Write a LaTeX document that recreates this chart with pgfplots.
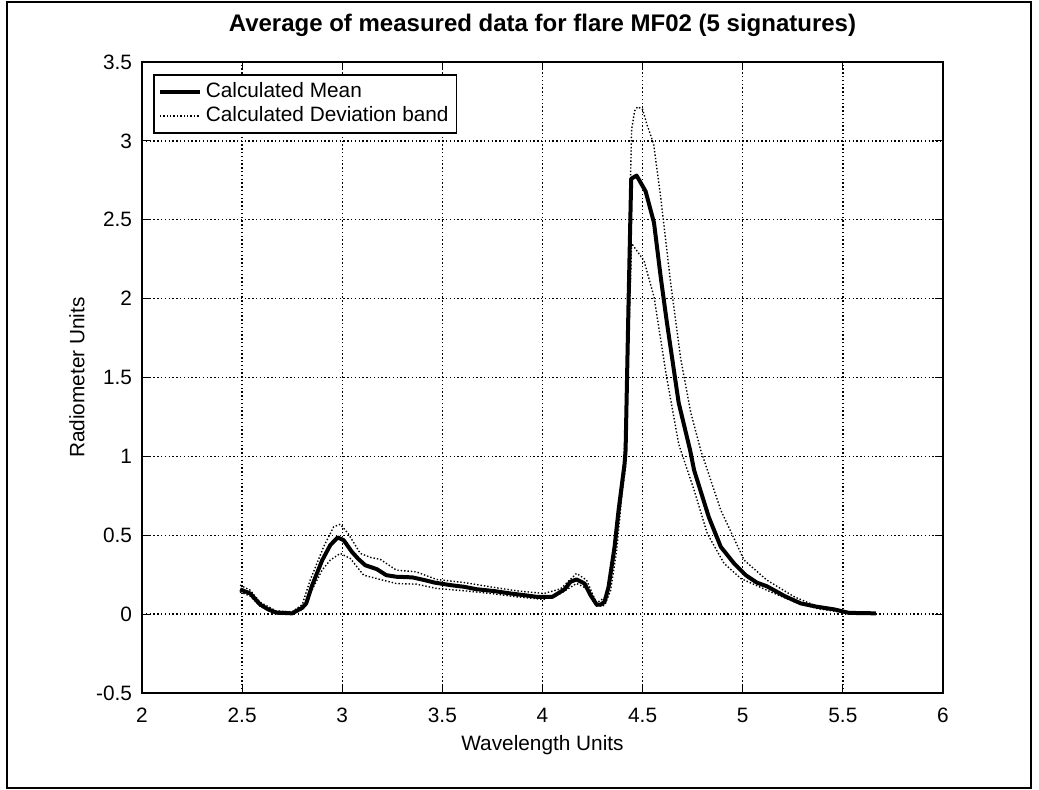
\documentclass[border=0pt]{standalone}
\usepackage{fontspec}
\setmainfont{Liberation Sans}
\usepackage{pgfplots}
\pgfplotsset{compat=1.18}

% mean curve and the two edges of the deviation band
\pgfplotstableread{
x y
2.49 0.157
2.54 0.131
2.59 0.061
2.63 0.030
2.67 0.010
2.75 0.005
2.80 0.040
2.82 0.068
2.85 0.184
2.90 0.342
2.94 0.437
2.977 0.486
3.007 0.469
3.048 0.395
3.08 0.350
3.115 0.310
3.173 0.285
3.22 0.247
3.27 0.237
3.35 0.233
3.41 0.216
3.46 0.200
3.54 0.184
3.61 0.173
3.67 0.158
3.76 0.146
3.84 0.131
3.91 0.120
3.97 0.110
4.05 0.110
4.11 0.157
4.14 0.205
4.17 0.220
4.21 0.194
4.24 0.120
4.27 0.061
4.29 0.060
4.31 0.078
4.33 0.173
4.36 0.427
4.38 0.660
4.41 0.955
4.415 1.04
4.43 1.99
4.443 2.76
4.47 2.78
4.515 2.68
4.557 2.48
4.59 2.14
4.62 1.86
4.68 1.34
4.737 1.04
4.757 0.913
4.83 0.617
4.89 0.427
4.957 0.321
5.015 0.247
5.07 0.200
5.12 0.177
5.21 0.114
5.29 0.068
5.37 0.047
5.457 0.030
5.53 0.008
5.665 0.005
}\meandata

\pgfplotstableread{
x y
2.49 0.184
2.54 0.152
2.59 0.075
2.67 0.020
2.75 0.015
2.80 0.060
2.84 0.216
2.907 0.427
2.957 0.553
2.99 0.570
3.03 0.510
3.09 0.385
3.14 0.360
3.19 0.347
3.27 0.279
3.37 0.268
3.47 0.220
3.61 0.200
3.74 0.173
3.87 0.148
4.007 0.131
4.09 0.160
4.17 0.258
4.22 0.216
4.27 0.070
4.315 0.110
4.35 0.300
4.38 0.596
4.415 0.934
4.425 1.50
4.435 2.50
4.445 3.07
4.46 3.19
4.475 3.216
4.50 3.20
4.52 3.11
4.555 2.98
4.59 2.645
4.64 2.10
4.69 1.62
4.74 1.28
4.79 1.04
4.89 0.660
5.007 0.342
5.12 0.216
5.257 0.110
5.37 0.050
5.457 0.030
5.53 0.008
5.665 0.005
}\upperdata

\pgfplotstableread{
x y
2.49 0.140
2.54 0.115
2.59 0.050
2.67 0.000
2.75 0.000
2.80 0.030
2.84 0.131
2.90 0.280
2.94 0.342
2.99 0.385
3.04 0.353
3.107 0.247
3.17 0.226
3.27 0.194
3.37 0.190
3.47 0.163
3.61 0.148
3.74 0.131
3.87 0.110
4.007 0.093
4.09 0.131
4.17 0.194
4.22 0.163
4.27 0.050
4.31 0.055
4.34 0.150
4.37 0.400
4.40 0.800
4.425 1.50
4.445 2.35
4.507 2.24
4.557 2.01
4.62 1.50
4.68 1.08
4.69 1.04
4.757 0.786
4.823 0.510
4.907 0.321
4.99 0.226
5.12 0.152
5.257 0.078
5.37 0.036
5.50 0.010
5.665 0.000
}\lowerdata

\begin{document}
\begin{tikzpicture}
\useasboundingbox (-71pt,-48pt) rectangle (448.5pt,346.5pt);
\draw[line width=0.8pt] (-67.5pt,-47.5pt) rectangle (444.5pt,345.5pt);
\begin{axis}[
  at={(0pt,0pt)}, anchor=south west,
  scale only axis, width=400.5pt, height=315.5pt,
  xmin=2, xmax=6, ymin=-0.5, ymax=3.5,
  xtick={2,2.5,...,6}, xticklabels={2,2.5,3,3.5,4,4.5,5,5.5,6},
  ytick={-0.5,0,...,3.5}, yticklabels={-0.5,0,0.5,1,1.5,2,2.5,3,3.5},
  tick align=inside, major tick length=4pt,
  tick style={black, line width=0.6pt},
  axis line style={line width=0.8pt},
  grid=major,
  major grid style={black, line width=0.7pt, dash pattern=on 0.7pt off 1.2pt},
  font=\fontsize{10.4}{12.5}\selectfont,
  xticklabel style={anchor=center, yshift=-11pt},
  yticklabel style={xshift=-1.5pt},
  title={Average of measured data for flare MF02 (5 signatures)},
  title style={font=\fontsize{12}{14}\selectfont\bfseries, at={(axis description cs:0.5,1.0396)}, anchor=center},
  xlabel={Wavelength Units},
  xlabel style={at={(axis description cs:0.5,-0.0824)}, anchor=center},
  ylabel={Radiometer Units},
  ylabel style={at={(axis description cs:-0.0811,0.5)}, anchor=center},
  legend cell align=left,
  legend image code/.code={\draw[#1] (0pt,0pt) -- (20pt,0pt);},
  legend style={at={(axis description cs:0,1)}, anchor=north west,
    xshift=5.5pt, yshift=-6pt, draw=black, line width=0.8pt, fill=white,
    font=\fontsize{10.4}{12.5}\selectfont, inner sep=2pt, row sep=-1pt},
]
\addplot[black, line width=2pt, line join=round] table {\meandata};
\addlegendentry{Calculated Mean}
\addplot[black, line width=0.7pt, dash pattern=on 0.7pt off 1pt] table {\upperdata};
\addlegendentry{Calculated Deviation band}
\addplot[black, line width=0.7pt, dash pattern=on 0.7pt off 1pt, forget plot] table {\lowerdata};
\end{axis}
\end{tikzpicture}
\end{document}
